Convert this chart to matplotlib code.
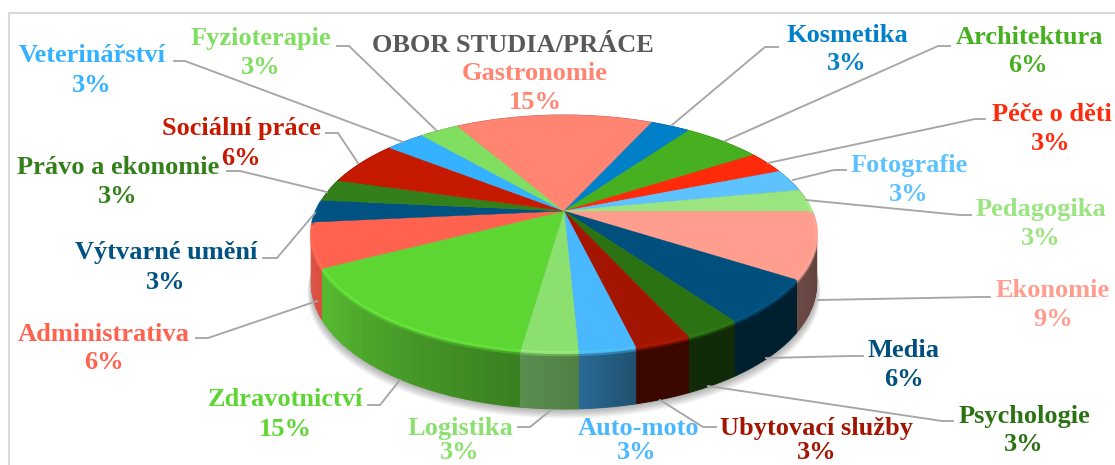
import numpy as np
import matplotlib
matplotlib.use("Agg")
import matplotlib.pyplot as plt
from matplotlib.colors import to_rgb

# Data, clockwise from the east edge of the pie
categories = ["Ekonomie", "Media", "Psychologie", "Ubytovací služby", "Auto-moto", "Logistika",
              "Zdravotnictví", "Administrativa", "Výtvarné umění", "Právo a ekonomie",
              "Sociální práce", "Veterinářství", "Fyzioterapie", "Gastronomie", "Kosmetika",
              "Architektura", "Péče o děti", "Fotografie", "Pedagogika"]
values = [9, 6, 3, 3, 3, 3, 15, 6, 3, 3, 6, 3, 3, 15, 3, 6, 3, 3, 3]
title = "OBOR STUDIA/PRÁCE"

top_colors = ["#FF9D8E", "#004F7C", "#2B7212", "#A31500", "#4AB8FF", "#8CE070",
              "#5DD634", "#FF6350", "#005282", "#33801A", "#C51A00", "#35B2FF", "#80DF60",
              "#FF8572", "#0080C8", "#46B020", "#FF2A0A", "#5EC2FF", "#9BE580"]
wall_left = ["#6A4A45", "#00202F", "#112A08", "#3B0800", "#2A6A96", "#5A8F50",
             "#58BC32", "#E0584A", "#00405F", "#20500F", "#801000", "#2080B0", "#60A040",
             "#B05040", "#005080", "#308010", "#B01000", "#3080B0", "#70A060"]
wall_right = ["#5E3C38", "#00202F", "#112A08", "#3B0800", "#20506F", "#4F7F42",
              "#3A7F20", "#D85040", "#00405F", "#20500F", "#801000", "#2080B0", "#60A040",
              "#B05040", "#005080", "#308010", "#B01000", "#3080B0", "#70A060"]
label_colors = list(top_colors)

label_pos = [(1053, 290), (904, 350), (1024, 416), (817, 428), (639, 428), (460, 428),
             (285, 399), (104, 334), (166, 252), (118, 167), (241, 128), (92, 55),
             (261, 38), (535, 73), (847, 36), (1029, 38), (1052, 114), (909, 165), (1041, 209)]
pct_pos = [(1053, 319), (904, 379), (1024, 444), (817, 452), (637, 452), (460, 452),
           (285, 429), (104, 362), (166, 282), (118, 196), (241, 158), (92, 86),
           (261, 67), (535, 102), (847, 64), (1028, 66), (1051, 143), (909, 194), (1041, 238)]
leaders = [[(818, 300), (980, 297), (990, 297)],
           [(766, 358), (850, 356), (863, 356)],
           [(708, 386), (942, 421), (953, 421)],
           [(660, 400), (703, 427), (716, 427)],
           None,
           [(518, 427), (530, 427), (551, 410)],
           [(368, 405), (380, 405), (400, 380)],
           [(196, 338), (208, 338), (317, 301)],
           [(263, 258), (277, 258), (315, 213)],
           [(227, 171), (240, 171), (327, 192)],
           [(326, 133), (338, 133), (358, 163)],
           [(174, 61), (185, 61), (403, 142)],
           [(337, 46), (349, 46), (437, 131)],
           None,
           [(672, 125), (765, 47), (778, 47)],
           [(725, 141), (938, 46), (950, 46)],
           [(768, 163), (975, 119), (985, 119)],
           [(793, 180), (834, 170), (846, 170)],
           [(806, 200), (960, 215), (971, 215)]]

CX, CY, RX, RY, K = 564.0, 211.0, 248.0, 114.2, 0.19
FONT = "Liberation Serif"


def project(theta):
    x, y = np.cos(theta), np.sin(theta)
    w = 1 + K * y
    return CX + RX * x / w, CY - RY * y / w, y


def brighten(c, f):
    return tuple(min(1.0, v * f + 0.02) for v in to_rgb(c))


fig = plt.figure(figsize=(11.15, 4.65), dpi=100)
ax = fig.add_axes([0, 0, 1, 1])
ax.set_xlim(0, 1115)
ax.set_ylim(465, 0)
ax.axis("off")

# chart frame
ax.plot([8.5, 8.5, 1115], [465, 13, 13], color="#D9D9D9", lw=1.5, zorder=1)

fractions = np.array(values, dtype=float) / sum(values)
edges = -2 * np.pi * np.concatenate([[0], np.cumsum(fractions)])

# soft shadow under the body
tt = np.linspace(0, 2 * np.pi, 240)
sx, sy, sv = project(tt)
sd = 48 - 9 * sv
for g in np.linspace(13, 1, 12):
    ax.fill(CX + (sx - CX) * (1 + g * 0.0012), sy + sd + g * 0.75, color="#000000",
            alpha=0.028, lw=0, zorder=2)

# walls, back to front
wall_items = []
for i in range(len(values)):
    gradient = wall_left[i] != wall_right[i]
    n = 24 if gradient else 1
    th = np.linspace(edges[i], edges[i + 1], n + 1)
    cr, cl = np.array(to_rgb(wall_right[i])), np.array(to_rgb(wall_left[i]))
    for j in range(n):
        t = (j + 0.5) / n
        wall_items.append((-np.sin(0.5 * (th[j] + th[j + 1])), th[j], th[j + 1],
                           tuple(cr * (1 - t) + cl * t)))
for _, a, b, col in sorted(wall_items, key=lambda w: w[0]):
    X, Y, V = project(np.linspace(a, b, 24))
    D = 48 - 9 * V
    ax.fill(np.r_[X, X[::-1]], np.r_[Y, (Y + D)[::-1]], facecolor=col, edgecolor=col,
            lw=0.7, zorder=3)

# top face
for i in range(len(values)):
    th = np.linspace(edges[i], edges[i + 1], max(values[i] * 8, 8))
    X, Y, V = project(th)
    ax.fill(np.r_[CX, X], np.r_[CY, Y], color=top_colors[i], lw=0.3, zorder=4)
    front = V < 0.1
    if front.sum() > 1:
        ax.plot(X[front], Y[front] + 0.8, color=brighten(top_colors[i], 1.08), lw=2.0,
                alpha=0.85, solid_capstyle="butt", zorder=5)
        ax.plot(X[front], Y[front] + 2.8, color=top_colors[i], lw=2.2, alpha=0.4,
                solid_capstyle="butt", zorder=5)

# leaders
for pts in leaders:
    if pts is not None:
        ax.plot(*zip(*pts), color="#A6A6A6", lw=1.35, zorder=6, solid_joinstyle="miter")

# labels
for i, name in enumerate(categories):
    ax.text(*label_pos[i], name, color=label_colors[i], fontsize=19, fontweight="bold",
            family=FONT, ha="center", va="center", zorder=7)
    ax.text(*pct_pos[i], f"{values[i]}%", color=label_colors[i], fontsize=19, fontweight="bold",
            family=FONT, ha="center", va="center", zorder=7)

ax.text(513, 46, title, color="#595959", fontsize=19, fontweight="bold", family=FONT,
        ha="center", va="center", zorder=7)

fig.savefig("out.png", dpi=100, facecolor="white")
